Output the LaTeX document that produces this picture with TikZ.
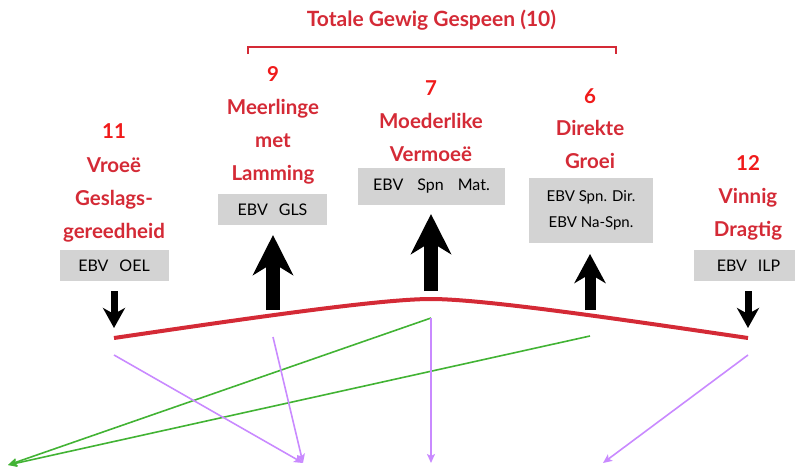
\documentclass[tikz,border=0pt]{standalone}
\usepackage{fontspec}
\setmainfont{Lato}
\usetikzlibrary{arrows.meta, positioning}
\definecolor{traitred}{HTML}{D42A36}
\definecolor{scorered}{HTML}{F01A1A}
\definecolor{ebvgray}{HTML}{D3D3D3}
\definecolor{corrgreen}{HTML}{42B334}
\definecolor{corrpurple}{HTML}{C98AFF}
\newcommand{\gap}[1][11pt]{\hspace{#1}}
\tikzstyle{trait}=[text=traitred, font=\bfseries\fontsize{20.5}{33}\selectfont, align=center, anchor=base, inner sep=0pt]
\tikzstyle{score}=[text=scorered, font=\bfseries\fontsize{20.5}{24}\selectfont, anchor=base, inner sep=0pt]
\tikzstyle{ebv}=[fill=ebvgray, font=\fontsize{16}{26}\selectfont, align=center, inner sep=0pt, minimum height=31pt, minimum width=109pt]
\tikzstyle{up}=[line width=14pt, -{Stealth[length=40pt,width=40pt,inset=12pt]}]
\tikzstyle{down}=[line width=7pt, -{Stealth[length=20pt,width=22pt,inset=6pt]}]
\tikzstyle{corr}=[line width=1.6pt, -{Stealth[length=9pt,width=8pt,inset=2pt]}]

\begin{document}
\begin{tikzpicture}[x=1pt, y=-1pt]
  \useasboundingbox (0,0) rectangle (795,466);
  % total weight weaned
  \node[trait, font=\bfseries\fontsize{21}{24}\selectfont] (total) at (431.5,26) {Totale Gewig Gespeen (10)};
  \coordinate (brl) at (248,54);
  \coordinate (brr) at (616,54);
  \draw[traitred, line width=2pt] (brl) -- ++(0,-7) -| (brr);

  % traits (anchor = baseline of last line)
  \node[score] (s11) at (114,138) {11};
  \node[trait] (vroee) at (114,238) {Vroeë\\Geslags-\\gereedheid};
  \node[ebv] (oel) at (114,265.5) {EBV\gap OEL};

  \node[score] (s9) at (273,81) {9};
  \node[trait] (meer) at (273,180) {Meerlinge\\met\\Lamming};
  \node[ebv] (gls) at (272.5,209.5) {EBV\gap GLS};

  \node[score] (s7) at (431,95) {7};
  \node[trait] (moeder) at (431,161) {Moederlike\\Vermoeë};
  \node[ebv, minimum width=147pt, minimum height=37pt] (mat) at (431.5,186.5) {EBV\gap[14pt]Spn\gap[14pt]Mat.};

  \node[score] (s6) at (590,103) {6};
  \node[trait] (direk) at (590,168) {Direkte\\Groei};
  \node[ebv, minimum width=124pt, minimum height=65pt, font=\fontsize{15}{26}\selectfont] (dir) at (591,210.5) {EBV Spn. Dir.\\EBV Na-Spn.};

  \node[score] (s12) at (748,170) {12};
  \node[trait] (vinnig) at (748,236) {Vinnig\\Dragtig};
  \node[ebv] (ilp) at (748.5,265.5) {EBV\gap ILP};

  % response curve
  \coordinate (c1) at (114,338);
  \coordinate (c3) at (431,299);
  \coordinate (c5) at (748,338);
  \draw[traitred, line width=4pt] (c1) .. controls (250,318) and (380,299) .. (c3)
    .. controls (482,299) and (612,318) .. (c5);

  % selection pressure
  \coordinate (a1) at (114,291);  \coordinate (a1t) at (114,328);
  \coordinate (a2) at (273,310);  \coordinate (a2t) at (273,235);
  \coordinate (a3) at (431,291);  \coordinate (a3t) at (431,214);
  \coordinate (a4) at (590,310);  \coordinate (a4t) at (590,254);
  \coordinate (a5) at (748,291);  \coordinate (a5t) at (748,328);
  \draw[down] (a1) -- (a1t);
  \draw[up] (a2) -- (a2t);
  \draw[up] (a3) -- (a3t);
  \draw[up, line width=11pt, -{Stealth[length=29pt,width=31pt,inset=9pt]}] (a4) -- (a4t);
  \draw[down] (a5) -- (a5t);

  % correlations
  \coordinate (g1) at (114,355);
  \coordinate (g2) at (273,337);
  \coordinate (g3) at (431,318);
  \coordinate (g4) at (590,336);
  \coordinate (g5) at (748,355);
  \coordinate (lo) at (8,465);
  \coordinate (mid) at (303,463);
  \coordinate (cen) at (431,463);
  \coordinate (rt) at (603,463);
  \draw[corr, corrgreen] (g3) -- (lo);
  \draw[corr, corrgreen] (g4) -- (lo);
  \draw[corr, corrpurple] (g1) -- (mid);
  \draw[corr, corrpurple] (g2) -- (mid);
  \draw[corr, corrpurple] (g3) -- (cen);
  \draw[corr, corrpurple] (g5) -- (rt);
\end{tikzpicture}
\end{document}
